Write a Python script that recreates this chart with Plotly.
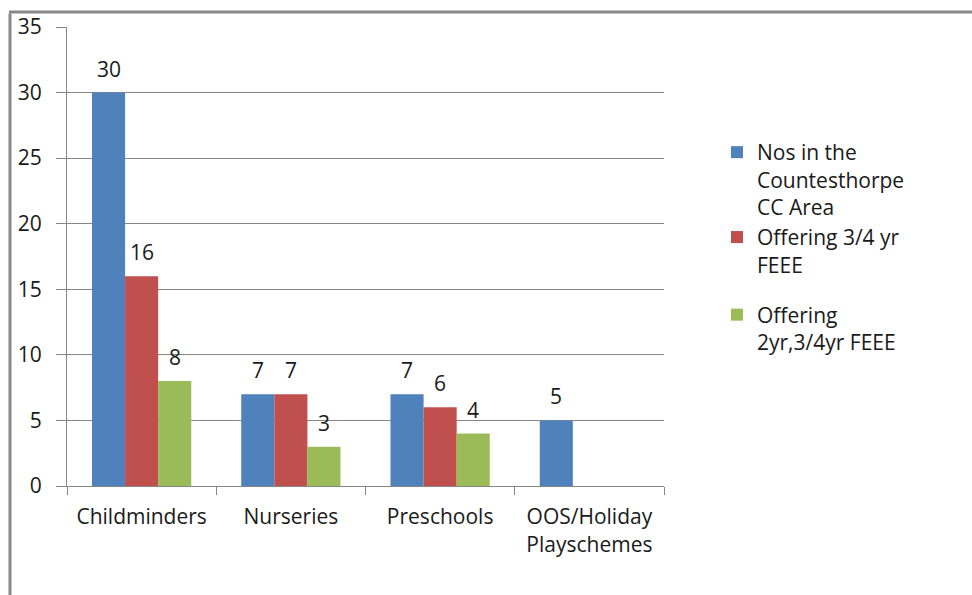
import plotly.graph_objects as go

categories = ["Childminders", "Nurseries", "Preschools", "OOS/Holiday<br>Playschemes"]
series_names = ["Nos in the<br>Countesthorpe<br>CC Area", "Offering 3/4 yr<br>FEEE", "Offering<br>2yr,3/4yr FEEE"]
nos_area = [30, 7, 7, 5]
offering_34 = [16, 7, 6, None]
offering_2_34 = [8, 3, 4, None]
colors = ["#4F81BD", "#C0504D", "#9BBB59"]
y_ticks = [0, 5, 10, 15, 20, 25, 30, 35]

FONT = "Open Sans"
FS = 21
W, H = 972, 595
L, R, T, B = 67, 308, 27, 109
pw, ph = W - L - R, H - T - B
BARGAP = 0.335
bar_px = pw / len(categories) * (1 - BARGAP) / 3

fig = go.Figure()
all_series = [nos_area, offering_34, offering_2_34]
groups = ["a", "a", "b"]
for name, vals, col, g in zip(series_names, all_series, colors, groups):
    fig.add_trace(go.Bar(
        x=categories, y=vals, name=name, legendgroup=g,
        marker=dict(color=col, line=dict(width=0)),
    ))

annotations = []
for i, vals in enumerate(all_series):
    for c, v in zip(categories, vals):
        if v is None:
            continue
        annotations.append(dict(
            x=c, y=v, xref="x", yref="y", text=str(v), showarrow=False,
            xshift=(i - 1) * bar_px, yshift=8, yanchor="bottom",
            font=dict(size=FS, family=FONT, color="#1a1a1a"),
        ))

def px_x(p):
    return (p - L) / pw

def px_y(p):
    return (H - B - p) / ph

fig.update_layout(
    width=W, height=H,
    margin=dict(l=L, r=R, t=T, b=B, autoexpand=False),
    paper_bgcolor="white", plot_bgcolor="white",
    barmode="group", bargap=BARGAP, bargroupgap=0,
    font=dict(family=FONT, size=FS, color="#1a1a1a"),
    showlegend=True,
    legend=dict(x=px_x(717), y=px_y(132), xanchor="left", yanchor="top",
                font=dict(size=FS, family=FONT, color="#1a1a1a"),
                valign="top", itemwidth=30,
                tracegroupgap=20, bgcolor="rgba(0,0,0,0)"),
    annotations=annotations,
    xaxis=dict(showline=True, linecolor="#868686", linewidth=1,
               ticks="outside", tickson="boundaries", ticklen=8, tickcolor="#868686",
               ticklabelstandoff=12,
               tickfont=dict(size=FS, family=FONT, color="#1a1a1a"), showgrid=False),
    yaxis=dict(range=[0, 35], tickvals=y_ticks, showline=True, linecolor="#868686", linewidth=1,
               ticks="outside", ticklen=10, tickcolor="#868686", ticklabelstandoff=10,
               showgrid=True, gridcolor="#868686", gridwidth=1, zeroline=False,
               tickfont=dict(size=FS, family=FONT, color="#1a1a1a")),
    shapes=[
        dict(type="line", xref="paper", yref="paper", x0=px_x(9), x1=px_x(975), y0=px_y(12), y1=px_y(12),
             line=dict(color="#888888", width=3)),
        dict(type="line", xref="paper", yref="paper", x0=px_x(10), x1=px_x(10), y0=px_y(13.5), y1=px_y(600),
             line=dict(color="#888888", width=3)),
    ],
)

fig.write_html("out.html", config={"displayModeBar": False},
               post_script="document.body.style.margin='0';document.body.style.padding='0';document.body.style.overflow='hidden';")
